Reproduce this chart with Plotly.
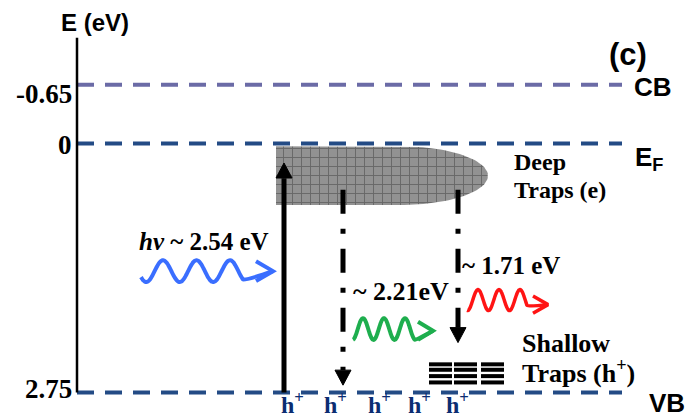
import numpy as np
import plotly.graph_objects as go

# Band edges and Fermi level (eV, increasing downward)
level_names = ["CB", "E<sub>F</sub>", "VB"]
level_energy = [-0.65, 0.0, 2.75]
level_colors = ["#6B6BA6", "#234B85", "#234B85"]
tick_text = ["-0.65", "0", "2.75"]

# Deep electron traps just below E_F, shallow hole traps above the VB
deep_trap_top = 0.03
deep_trap_bottom = 0.68
shallow_trap_levels = [2.44, 2.50, 2.57, 2.64]

# Excitation and emission transitions
excitation_tip = 0.215
emission_start = 0.51
emission_tips = [2.67, 2.20]
excitation_label = "<i>hv</i> ~ 2.54 eV"
emission_labels = ["~ 2.21eV", "~ 1.71 eV"]

# Holes left in the valence band
hole_x = [279, 322, 366, 406, 444]

SERIF = "Liberation Serif, Times New Roman, serif"
SANS = "Liberation Sans, Arial, sans-serif"

fig = go.Figure()

# --- deep trap band: flat on the left, rounded on the right ---
x_round = 400
half_len = 88
mid = (deep_trap_top + deep_trap_bottom) / 2
half_h = (deep_trap_bottom - deep_trap_top) / 2
theta = np.linspace(-np.pi / 2, np.pi / 2, 60)
trap_x = [276, x_round] + list(x_round + half_len * np.cos(theta)) + [276, 276]
trap_y = [deep_trap_top, deep_trap_top] + list(mid + half_h * np.sin(theta)) + [deep_trap_bottom, deep_trap_top]
fig.add_trace(go.Scatter(
    x=trap_x, y=trap_y, mode="lines", fill="toself",
    line=dict(width=0, color="rgba(0,0,0,0)"),
    fillcolor="#8E8E8E",
    fillpattern=dict(shape="+", fgcolor="#3C3C3C", bgcolor="#929292", size=9, solidity=0.2),
    hoverinfo="skip",
))

# --- band edge / Fermi level dashed lines ---
for e, c in zip(level_energy, level_colors):
    fig.add_trace(go.Scatter(
        x=[77, 622], y=[e, e], mode="lines",
        line=dict(color=c, width=4, dash="17px,11px"), hoverinfo="skip",
    ))

# energy axis
fig.add_trace(go.Scatter(
    x=[77, 77], y=[-1.17, level_energy[2]], mode="lines",
    line=dict(color="black", width=2.5), hoverinfo="skip",
))


def head(x, tip, base, half_w=8):
    fig.add_trace(go.Scatter(
        x=[x - half_w, x + half_w, x, x - half_w], y=[base, base, tip, base],
        mode="lines", fill="toself", fillcolor="black",
        line=dict(color="black", width=1), hoverinfo="skip",
    ))


# --- excitation: VB -> deep traps ---
fig.add_trace(go.Scatter(
    x=[284, 284], y=[level_energy[2], excitation_tip + 0.17], mode="lines",
    line=dict(color="black", width=5), hoverinfo="skip",
))
head(284, excitation_tip, excitation_tip + 0.166)

# --- emission: deep traps -> holes / shallow traps ---
for x, tip in zip([343, 458], emission_tips):
    base = tip - 0.166
    fig.add_trace(go.Scatter(
        x=[x, x], y=[emission_start, base], mode="lines",
        line=dict(color="black", width=5, dash="24px,15px,5px,15px"), hoverinfo="skip",
    ))
    head(x, tip, base)

# --- shallow hole traps ---
bx, by = [], []
for x0, x1 in [(429, 452), (454, 477), (481, 504)]:
    for e in shallow_trap_levels:
        bx += [x0, x1, None]
        by += [e, e, None]
fig.add_trace(go.Scatter(x=bx, y=by, mode="lines",
                         line=dict(color="black", width=4), hoverinfo="skip"))


# --- photons (wavy arrows) ---
def photon(x0, x1, x_peak, period, center, amp, tip, arm_x, arm_dy, color, width=4):
    xs = np.linspace(x0, x1, 120)
    ys = center - amp * np.cos(2 * np.pi * (xs - x_peak) / period)
    fig.add_trace(go.Scatter(
        x=list(xs) + [tip[0]], y=list(ys) + [tip[1]], mode="lines",
        line=dict(color=color, width=width, shape="spline"), hoverinfo="skip",
    ))
    fig.add_trace(go.Scatter(
        x=[arm_x, tip[0], arm_x], y=[tip[1] - arm_dy, tip[1], tip[1] + arm_dy], mode="lines",
        line=dict(color=color, width=width), hoverinfo="skip",
    ))


photon(141, 243, 163, 33.5, 1.41, 0.12, (273, 1.41), 256, 0.11, "#3A6EFF")
photon(353, 415, 363, 21, 2.05, 0.12, (433, 2.07), 418, 0.10, "#1EAE4E")
photon(467, 527, 478, 21, 1.73, 0.116, (548, 1.78), 533, 0.095, "#FF1414", 3.5)

# --- text ---
ann = []


def text(x, y, s, size, family=SERIF, color="black", xanchor="center", yanchor="middle", yshift=0):
    ann.append(dict(x=x, y=y, xref="x", yref="y", text=s, showarrow=False,
                    xanchor=xanchor, yanchor=yanchor, yshift=yshift,
                    font=dict(family=family, size=size, color=color, weight="bold")))


text(95, -1.34, "E (eV)", 24, SANS)
for e, t, ys in zip(level_energy, tick_text, [-9, -1, 3]):
    text(74, e, t, 27, xanchor="right", yshift=ys)

text(628, -0.98, "(c)", 31, SANS)
text(632, level_energy[0], level_names[0], 26, SANS, xanchor="left", yshift=-2)
text(633, level_energy[1], level_names[1], 26, SANS, xanchor="left", yshift=-15)
text(647, 3.05, level_names[2], 26, SANS, xanchor="left", yanchor="bottom")

text(512, 0.20, "Deep", 24, xanchor="left")
text(512, 0.51, "Traps (e)", 24, xanchor="left")
text(520, 2.215, "Shallow", 26, xanchor="left")
text(520, 2.52, "Traps (h<sup>+</sup>)", 26, xanchor="left")

text(204, 1.08, excitation_label, 25)
text(401, 1.64, emission_labels[0], 26)
text(511, 1.35, emission_labels[1], 25)

for hx in hole_x:
    text(hx, 3.05, "h<sup>+</sup>", 24, color="#0B2D72", xanchor="left", yanchor="bottom")

fig.update_layout(
    width=686, height=420,
    margin=dict(l=0, r=0, t=0, b=0),
    paper_bgcolor="white", plot_bgcolor="white",
    showlegend=False,
    xaxis=dict(range=[0, 686], visible=False, fixedrange=True),
    yaxis=dict(range=[3.055, -1.586], visible=False, fixedrange=True),
    annotations=ann,
)

fig.write_html("out.html")
